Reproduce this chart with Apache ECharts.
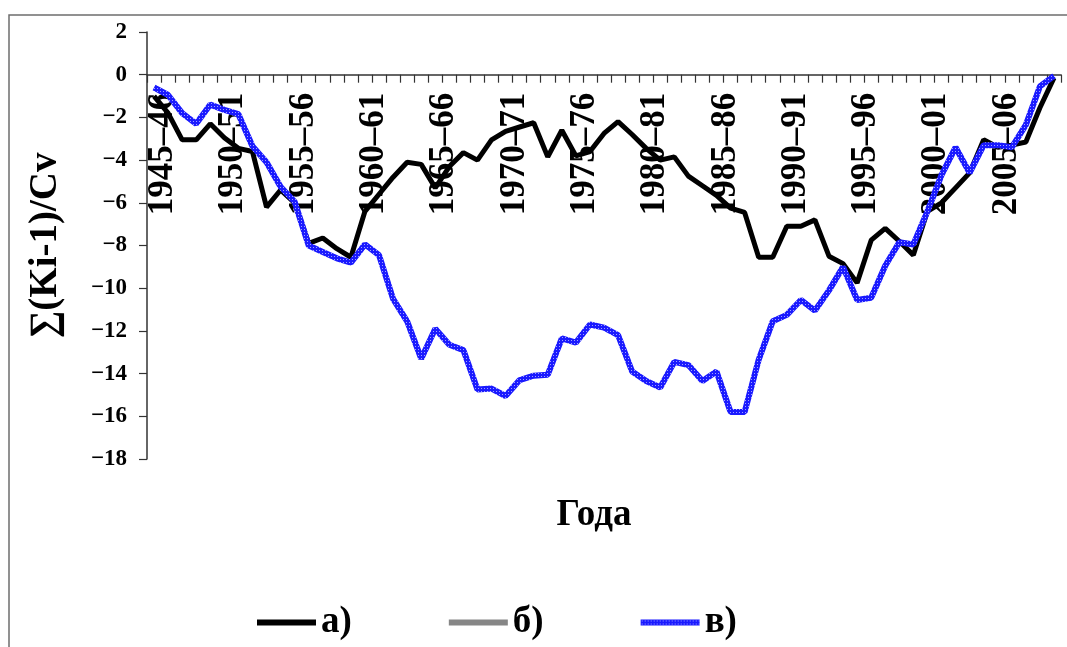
<!DOCTYPE html>
<html>
<head>
<meta charset="utf-8">
<script src="https://cdn.jsdelivr.net/npm/echarts@6/dist/echarts.min.js"></script>
<style>
html,body{margin:0;padding:0;background:#fff;}
#chart{width:1067px;height:647px;}
</style>
</head>
<body>
<div id="chart"></div>
<script>
const categories = [
 '1945–46','1946–47','1947–48','1948–49','1949–50','1950–51','1951–52','1952–53','1953–54','1954–55',
 '1955–56','1956–57','1957–58','1958–59','1959–60','1960–61','1961–62','1962–63','1963–64','1964–65',
 '1965–66','1966–67','1967–68','1968–69','1969–70','1970–71','1971–72','1972–73','1973–74','1974–75',
 '1975–76','1976–77','1977–78','1978–79','1979–80','1980–81','1981–82','1982–83','1983–84','1984–85',
 '1985–86','1986–87','1987–88','1988–89','1989–90','1990–91','1991–92','1992–93','1993–94','1994–95',
 '1995–96','1996–97','1997–98','1998–99','1999–00','2000–01','2001–02','2002–03','2003–04','2004–05',
 '2005–06','2006–07','2007–08','2008–09','2009–10'
];
// а)
const seriesA = [
 -1.0,-1.8,-3.05,-3.05,-2.3,-2.95,-3.45,-3.6,-6.2,-5.4,
 -6.0,-7.9,-7.65,-8.15,-8.55,-6.4,-5.6,-4.8,-4.1,-4.2,
 -5.3,-4.3,-3.65,-4.0,-3.05,-2.65,-2.45,-2.25,-3.85,-2.6,
 -3.8,-3.6,-2.75,-2.2,-2.8,-3.45,-4.0,-3.85,-4.75,-5.2,
 -5.65,-6.25,-6.45,-8.55,-8.55,-7.1,-7.1,-6.8,-8.5,-8.85,
 -9.75,-7.75,-7.2,-7.8,-8.45,-6.4,-6.0,-5.3,-4.6,-3.05,
 -3.4,-3.3,-3.15,-1.55,-0.15
];
// б)
const seriesB = [];
// в)
const seriesC = [
 -0.6,-0.95,-1.8,-2.3,-1.4,-1.65,-1.85,-3.35,-4.1,-5.25,
 -5.95,-8.0,-8.3,-8.6,-8.8,-7.95,-8.45,-10.5,-11.55,-13.3,
 -11.9,-12.65,-12.9,-14.75,-14.7,-15.05,-14.3,-14.1,-14.05,-12.35,
 -12.55,-11.7,-11.85,-12.2,-13.9,-14.35,-14.65,-13.45,-13.6,-14.35,
 -13.9,-15.8,-15.8,-13.35,-11.55,-11.25,-10.55,-11.05,-10.1,-9.0,
 -10.55,-10.45,-8.95,-7.85,-7.95,-6.4,-4.7,-3.4,-4.6,-3.3,
 -3.3,-3.4,-2.35,-0.55,-0.05
];
const seriesNames = ['а)','б)','в)'];
const yMin = -18, yMax = 2, yStep = 2;

function makePattern(){
  const c = document.createElement('canvas');
  c.width = 3; c.height = 3;
  const g = c.getContext('2d');
  g.fillStyle = '#1a1aff'; g.fillRect(0,0,3,3);
  g.fillStyle = '#a0a0ff'; g.fillRect(1,1,1,1);
  return {image: c, repeat: 'repeat'};
}
const bluePattern = makePattern();

const gridTop = 32, gridHeight = 427;
// place the category axis on the zero line of the value axis
const zeroOffset = -gridHeight * (0 - yMin) / (yMax - yMin);

const chart = echarts.init(document.getElementById('chart'), null, {renderer:'canvas'});
const serif = 'Liberation Serif';
chart.setOption({
  animation:false,
  backgroundColor:'#fff',
  graphic:[{type:'rect', shape:{x:9,y:15,width:1080,height:660}, style:{fill:'none', stroke:'#6e6e6e', lineWidth:1.5}, z:-1}],
  grid:{left:147, top:gridTop, width:914, height:gridHeight, containLabel:false, outerBoundsMode:'none'},
  legend:{
    data:seriesNames, orient:'horizontal', left:257, top:604, padding:0, icon:'rect', itemWidth:59, itemHeight:6, itemGap:97,
    textStyle:{fontFamily:serif, fontWeight:'bold', fontSize:37, color:'#000'}
  },
  xAxis:{
    type:'category', data:categories, boundaryGap:true, position:'bottom', offset:zeroOffset,
    axisLine:{onZero:false, lineStyle:{color:'#333', width:1.5}},
    axisTick:{show:true, interval:0, length:8, lineStyle:{color:'#333', width:1.2}},
    axisLabel:{interval:4, rotate:90, margin:18, fontFamily:serif, fontWeight:'bold', fontSize:35,
      color:'#000', verticalAlign:'top', lineHeight:18},
    name:'Года', nameLocation:'middle', nameGap:422,
    nameTextStyle:{fontFamily:serif, fontWeight:'bold', fontSize:37, color:'#000', padding:[0,20,0,0]},
    splitLine:{show:false}
  },
  yAxis:{
    type:'value', min:yMin, max:yMax, interval:yStep,
    axisLine:{show:true, lineStyle:{color:'#333', width:1.5}},
    axisTick:{show:true, length:8, lineStyle:{color:'#333', width:1.2}},
    axisLabel:{margin:20, fontFamily:serif, fontWeight:'bold', fontSize:23, color:'#000',
      formatter:function(v){return v<0 ? '−'+Math.abs(v) : String(v);}},
    splitLine:{show:false},
    name:'∑(Ki-1)/Cv', nameLocation:'middle', nameGap:82, nameRotate:90,
    nameTextStyle:{fontFamily:serif, fontWeight:'bold', fontSize:39, color:'#000'}
  },
  series:[
    {name:seriesNames[0], type:'line', data:seriesA, symbol:'none', z:3,
     lineStyle:{color:'#000', width:5}, itemStyle:{color:'#000'}},
    {name:seriesNames[1], type:'line', data:seriesB, symbol:'none', z:2,
     lineStyle:{color:'#868686', width:5}, itemStyle:{color:'#868686'}},
    {name:seriesNames[2], type:'line', data:seriesC, symbol:'none', z:4,
     lineStyle:{color:bluePattern, width:6}, itemStyle:{color:bluePattern}}
  ]
});
</script>
</body>
</html>
